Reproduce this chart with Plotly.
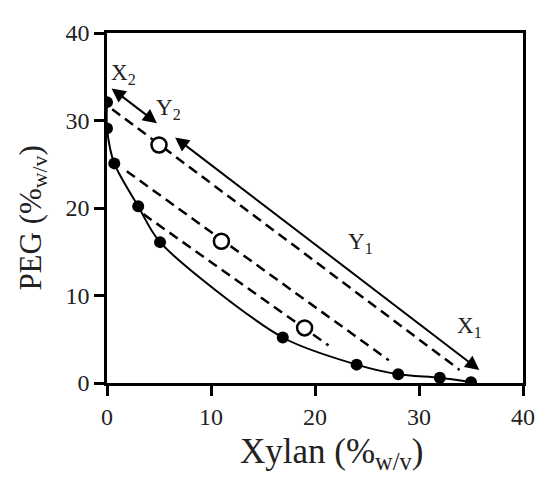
import plotly.graph_objects as go

# Binodal curve data (filled points)
binodal_x = [0, 0, 0.7, 3.0, 5.1, 16.9, 24.0, 28.0, 32.0, 35.0]
binodal_y = [32.1, 29.1, 25.1, 20.2, 16.1, 5.2, 2.1, 1.0, 0.6, 0.1]

# Mixture (open circle) compositions
mix_x = [5.0, 11.0, 19.0]
mix_y = [27.2, 16.2, 6.3]

# Tie lines: start and end points
tie_x0 = [0.5, 1.9, 3.5]
tie_y0 = [31.3, 24.2, 19.3]
tie_x1 = [33.9, 27.1, 21.3]
tie_y1 = [1.5, 2.6, 4.3]

# Double arrows (X2/Y2 segment and Y1 segment)
arrow_x0 = [0.3, 6.4]
arrow_y0 = [33.8, 28.2]
arrow_x1 = [4.8, 35.8]
arrow_y1 = [29.7, 1.5]

# Labels
label_text = ["X<sub>2</sub>", "Y<sub>2</sub>", "Y<sub>1</sub>", "X<sub>1</sub>"]
label_x = [1.6, 5.9, 24.4, 34.9]
label_y = [35.3, 31.3, 16.0, 6.4]

x_ticks = [0, 10, 20, 30, 40]
y_ticks = [0, 10, 20, 30, 40]

x_title = "Xylan (%<sub>w/v</sub>)"
y_title = "PEG (%<sub>w/v</sub>)"

FONT = "Liberation Serif, Times New Roman, serif"

fig = go.Figure()

for i in range(len(tie_x0)):
    fig.add_trace(go.Scatter(
        x=[tie_x0[i], tie_x1[i]], y=[tie_y0[i], tie_y1[i]],
        mode="lines", line=dict(color="black", width=2.5, dash="10px,6px"),
        showlegend=False, hoverinfo="skip"))

fig.add_trace(go.Scatter(
    x=binodal_x, y=binodal_y, mode="lines+markers",
    line=dict(color="black", width=2, shape="spline", smoothing=0.8),
    marker=dict(color="black", size=12),
    showlegend=False))

fig.add_trace(go.Scatter(
    x=mix_x, y=mix_y, mode="markers",
    marker=dict(color="white", size=15, line=dict(color="black", width=2.5)),
    showlegend=False))

for i in range(len(arrow_x0)):
    fig.add_annotation(
        x=arrow_x1[i], y=arrow_y1[i], ax=arrow_x0[i], ay=arrow_y0[i],
        xref="x", yref="y", axref="x", ayref="y", text="",
        showarrow=True, arrowhead=2, startarrowhead=2, arrowside="end+start",
        arrowsize=1.4, startarrowsize=1.4, arrowwidth=2, arrowcolor="black")

for t, lx, ly in zip(label_text, label_x, label_y):
    fig.add_annotation(x=lx, y=ly, xref="x", yref="y", text=t, showarrow=False,
                       font=dict(family=FONT, size=23, color="#222"))

# Axis titles as annotations (positioned like the reference)
fig.add_annotation(text=x_title, xref="paper", yref="paper", x=0.54, y=-0.2,
                   xanchor="center", yanchor="middle", showarrow=False,
                   font=dict(family=FONT, size=35, color="#222"))
fig.add_annotation(text=y_title, xref="paper", yref="paper", x=-0.18, y=0.47,
                   xanchor="center", yanchor="middle", showarrow=False, textangle=-90,
                   font=dict(family=FONT, size=31, color="#222"))

axis_common = dict(
    showgrid=False, zeroline=False, showline=True, linecolor="black",
    linewidth=2.5, mirror=True, ticks="outside", ticklen=10, tickwidth=2.5,
    tickcolor="black", tickfont=dict(family=FONT, size=24, color="#222"))

fig.update_xaxes(range=[0, 40], tickvals=x_ticks, **axis_common)
fig.update_yaxes(range=[0, 40], tickvals=y_ticks, **axis_common)

fig.update_layout(
    width=550, height=487,
    margin=dict(l=99, r=35, t=20, b=112),
    plot_bgcolor="white", paper_bgcolor="white",
    showlegend=False)

fig.write_html("out.html")
